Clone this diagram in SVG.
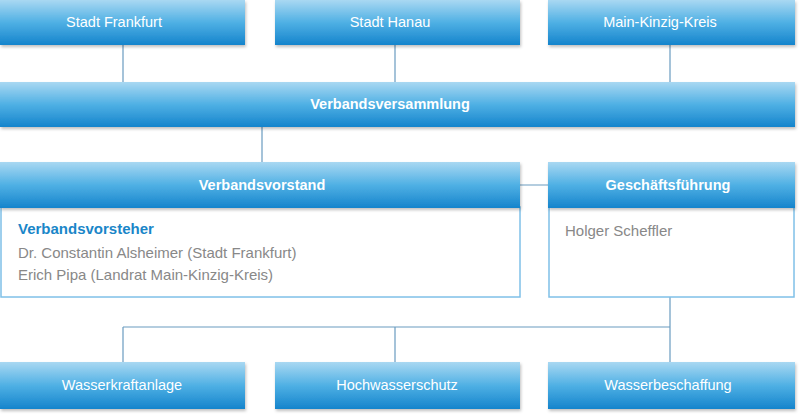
<svg xmlns="http://www.w3.org/2000/svg" width="800" height="415" viewBox="0 0 800 415">
<defs>
<linearGradient id="g" x1="0" y1="0" x2="0" y2="1">
<stop offset="0" stop-color="#a9d8f2"/><stop offset="0.5" stop-color="#4fb0e4"/><stop offset="1" stop-color="#1584cc"/>
</linearGradient>
<filter id="s" x="-5%" y="-20%" width="110%" height="150%"><feDropShadow dx="1" dy="2" stdDeviation="1.5" flood-color="#000" flood-opacity="0.25"/></filter>
</defs>
<style>
.h{fill:url(#g);filter:url(#s)}
.b{fill:#fff;stroke:#7fc0e8;stroke-width:1.5}
.t{font-family:"Liberation Sans",Arial,sans-serif;font-size:14.5px;fill:#fff;text-anchor:middle}
.tb{font-weight:bold}
.g{font-family:"Liberation Sans",Arial,sans-serif;font-size:15px;fill:#888}
.c{stroke:#6a9cc0;stroke-width:1.2;fill:none}
</style>
<rect width="800" height="415" fill="#fff"/>
<g id="connectors">
<path class="c" d="M123 45V82M395 45V82M670 45V82M262 127V162M520 185H548M670 297V327M123 327H670M123 327V362M395 327V362M670 327V362"/>
</g>
<g id="frankfurt"><rect class="h" x="0" y="0" width="245" height="45"/><text class="t" x="114" y="27">Stadt Frankfurt</text></g>
<g id="hanau"><rect class="h" x="275" y="0" width="245" height="45"/><text class="t" x="390" y="27">Stadt Hanau</text></g>
<g id="mkk"><rect class="h" x="548" y="0" width="247" height="45"/><text class="t" x="660" y="27">Main-Kinzig-Kreis</text></g>
<g id="versammlung"><rect class="h" x="0" y="82" width="795" height="45"/><text class="t tb" x="390" y="109">Verbandsversammlung</text></g>
<g id="vorstand"><rect class="b" x="1" y="207" width="519" height="90"/><rect class="h" x="0" y="162" width="520" height="46"/><text class="t tb" x="262" y="190">Verbandsvorstand</text>
<text x="18" y="234" font-family="Liberation Sans,Arial,sans-serif" font-size="15" font-weight="bold" fill="#1a86c8">Verbandsvorsteher</text>
<text class="g" x="18" y="258">Dr. Constantin Alsheimer (Stadt Frankfurt)</text>
<text class="g" x="18" y="280">Erich Pipa (Landrat Main-Kinzig-Kreis)</text></g>
<g id="gf"><rect class="b" x="549" y="207" width="245" height="90"/><rect class="h" x="548" y="162" width="247" height="46"/><text class="t tb" x="668" y="190">Geschäftsführung</text>
<text class="g" x="565" y="236">Holger Scheffler</text></g>
<g id="wk"><rect class="h" x="0" y="362" width="245" height="47"/><text class="t" x="122" y="390">Wasserkraftanlage</text></g>
<g id="hw"><rect class="h" x="275" y="362" width="245" height="47"/><text class="t" x="397" y="390">Hochwasserschutz</text></g>
<g id="wb"><rect class="h" x="548" y="362" width="247" height="47"/><text class="t" x="668" y="390">Wasserbeschaffung</text></g>
</svg>
